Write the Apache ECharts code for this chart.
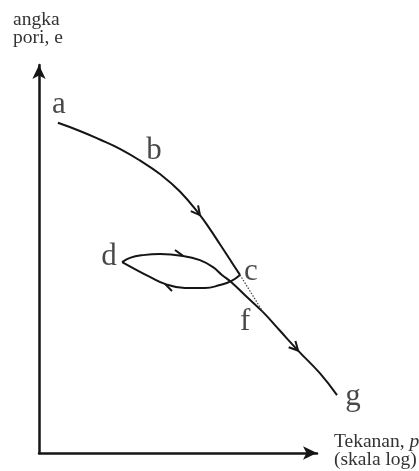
<!DOCTYPE html>
<html>
<head>
<meta charset="utf-8">
<script src="https://cdn.jsdelivr.net/npm/echarts@6/dist/echarts.min.js"></script>
<style>
  html, body { margin: 0; padding: 0; background: #fff; }
  #chart { width: 419px; height: 471px; }
</style>
</head>
<body>
<div id="chart"></div>
<script>
// Virgin compression curve a -> b -> c (log p, e)
const loadingP = [0.68, 1.47, 2.19, 2.91, 3.63, 4.35, 5.07, 5.79, 6.15, 6.51, 6.91, 7.23];
const loadingE = [8.51, 8.30, 8.08, 7.84, 7.54, 7.19, 6.74, 6.13, 5.77, 5.38, 4.94, 4.59];

// Unloading branch c -> d
const unloadingP = [7.23, 6.91, 6.51, 5.97, 5.25, 4.53, 3.99, 3.45, 2.99];
const unloadingE = [4.59, 4.43, 4.33, 4.25, 4.25, 4.36, 4.54, 4.74, 4.92];

// Reloading branch d -> f -> g
const reloadingP = [2.99, 3.27, 3.74, 4.35, 5.18, 5.79, 6.26, 6.58, 6.91, 7.48, 8.06, 8.67, 9.32, 10.11, 10.72];
const reloadingE = [4.92, 5.03, 5.10, 5.13, 5.08, 4.97, 4.79, 4.59, 4.41, 4.02, 3.63, 3.15, 2.64, 2.05, 1.49];

// Continuation of the virgin curve c -> f
const extensionP = [7.23, 8.06];
const extensionE = [4.59, 3.63];

// Point names
const pointNames = ['a', 'b', 'c', 'd', 'f', 'g'];

const zip = (xs, ys) => xs.map((x, i) => [x, ys[i]]);
const loading = zip(loadingP, loadingE);
const unloading = zip(unloadingP, unloadingE);
const reloading = zip(reloadingP, reloadingE);
const extension = zip(extensionP, extensionE);

// Direction markers: placed at a vertex, oriented along its neighbours
function marker(curve, i, barbs) {
  return [curve[i][0], curve[i][1], curve[i - 1][0], curve[i - 1][1], curve[i + 1][0], curve[i + 1][1], barbs];
}
const markers = [
  marker(loading, 7, 0),
  marker(reloading, 4, 1),
  marker(unloading, 5, 1),
  marker(reloading, 12, 0)
];

// Named points on the curves
const namedPoints = [
  { name: pointNames[0], at: loading[0], offset: [1, -18] },
  { name: pointNames[1], at: loading[5], offset: [-6, -23] },
  { name: pointNames[2], at: loading[loading.length - 1], offset: [11, -3] },
  { name: pointNames[3], at: unloading[unloading.length - 1], offset: [-13, -5] },
  { name: pointNames[4], at: extension[1], offset: [-18, 10] },
  { name: pointNames[5], at: reloading[reloading.length - 1], offset: [16, 2] }
];

const ink = '#151515';
const curveStyle = { color: ink, width: 2 };
const AXIS_MAX = 10;      // end of the drawn axes
const PLOT_MAX_X = 11;    // curves may run past the axis arrow
const UNIT_X = 27.8;      // px per unit along log p

const hiddenAxis = { show: false, type: 'value', min: 0 };
const arrowAxis = {
  type: 'value', min: 0, max: AXIS_MAX,
  axisLine: { show: true, symbol: ['none', 'arrow'], symbolSize: [10, 14], lineStyle: { color: ink, width: 2.5 } },
  axisTick: { show: false }, axisLabel: { show: false }, splitLine: { show: false }
};

const chart = echarts.init(document.getElementById('chart'), null, { renderer: 'canvas' });

chart.setOption({
  animation: false,
  backgroundColor: '#ffffff',
  grid: [
    { left: 39, right: 102, top: 65, bottom: 18 },
    { left: 39, width: PLOT_MAX_X * UNIT_X, top: 65, bottom: 18 }
  ],
  xAxis: [
    Object.assign({ gridIndex: 0 }, arrowAxis),
    Object.assign({ gridIndex: 1, max: PLOT_MAX_X }, hiddenAxis)
  ],
  yAxis: [
    Object.assign({ gridIndex: 0 }, arrowAxis),
    Object.assign({ gridIndex: 1, max: AXIS_MAX }, hiddenAxis)
  ],
  graphic: [
    {
      type: 'text', left: 13, top: 10,
      style: { text: 'angka\npori, e', font: '19.5px "Liberation Serif"', fill: '#333', lineHeight: 18 }
    },
    {
      type: 'text', left: 334, top: 432,
      style: {
        text: 'Tekanan, {i|p}\n(skala log)',
        font: '19.5px "Liberation Serif"', fill: '#333', lineHeight: 18,
        rich: { i: { font: 'italic 19.5px "Liberation Serif"', fill: '#333' } }
      }
    }
  ],
  series: [
    { name: 'loading', type: 'line', xAxisIndex: 1, yAxisIndex: 1, data: loading, smooth: 0.45,
      symbol: 'none', clip: false, lineStyle: curveStyle },
    { name: 'unloading', type: 'line', xAxisIndex: 1, yAxisIndex: 1, data: unloading, smooth: 0.45,
      symbol: 'none', clip: false, lineStyle: curveStyle },
    { name: 'reloading', type: 'line', xAxisIndex: 1, yAxisIndex: 1, data: reloading, smooth: 0.45,
      symbol: 'none', clip: false, lineStyle: curveStyle },
    { name: 'extension', type: 'line', xAxisIndex: 1, yAxisIndex: 1, data: extension, symbol: 'none', clip: false,
      lineStyle: { color: '#444', width: 1.2, type: [1.5, 1.5] } },
    {
      name: 'markers', type: 'custom', xAxisIndex: 1, yAxisIndex: 1, clip: false, data: markers,
      renderItem(params, api) {
        const tip = api.coord([api.value(0), api.value(1)]);
        const a = api.coord([api.value(2), api.value(3)]);
        const b = api.coord([api.value(4), api.value(5)]);
        const ang = Math.atan2(b[1] - a[1], b[0] - a[0]);
        const len = 10, spread = Math.PI / 6.5;
        const p1 = [tip[0] - len * Math.cos(ang - spread), tip[1] - len * Math.sin(ang - spread)];
        const p2 = [tip[0] - len * Math.cos(ang + spread), tip[1] - len * Math.sin(ang + spread)];
        const pts = api.value(6) === 1 ? [tip, p2] : [p1, tip, p2];
        return { type: 'polyline', shape: { points: pts }, style: { stroke: ink, lineWidth: 2, fill: null } };
      }
    },
    {
      name: 'points', type: 'scatter', xAxisIndex: 1, yAxisIndex: 1, symbolSize: 0, clip: false,
      data: namedPoints.map(p => ({
        value: p.at, name: p.name,
        label: { show: true, position: 'inside', offset: p.offset, formatter: p.name }
      })),
      label: { fontFamily: 'Liberation Serif', fontSize: 31, color: '#1a1a1a' }
    }
  ]
});
</script>
</body>
</html>
